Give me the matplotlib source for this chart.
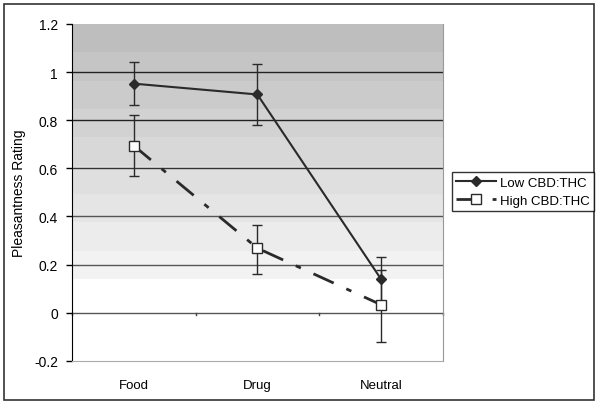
import matplotlib.pyplot as plt
import matplotlib.patches as mpatches
from matplotlib.lines import Line2D
import numpy as np

# Данные
categories = ['Food', 'Drug', 'Neutral']
low_values = [0.952, 0.907, 0.140]
low_err = [0.090, 0.127, 0.093]
high_values = [0.694, 0.268, 0.033]
high_err_low = [0.127, 0.106, 0.155]
high_err_high = [0.127, 0.098, 0.145]
y_ticks = [-0.2, 0, 0.2, 0.4, 0.6, 0.8, 1.0, 1.2]
y_tick_labels = ['-0.2', '0', '0.2', '0.4', '0.6', '0.8', '1', '1.2']
series_labels = ['Low CBD:THC', 'High CBD:THC']

plt.rcParams['font.family'] = ['Liberation Sans', 'DejaVu Sans']

fig = plt.figure(figsize=(6.01, 4.06), dpi=100)
ax = fig.add_axes([72 / 601, 1 - 361.7 / 406, (442.7 - 72) / 601, (361.7 - 25) / 406])

# Рамка всей картинки
fig.patches.append(mpatches.Rectangle((4 / 601, 1 - 401 / 406), 590 / 601, 396 / 406,
                                      transform=fig.transFigure, fill=False,
                                      edgecolor='#333333', linewidth=1.2))

x = np.arange(len(categories))
ax.set_xlim(-0.5, 2.5)
ax.set_ylim(-0.2, 1.2)

# Градиентный фон (полосы от серого к белому)
n_bands = 9
edges = np.linspace(1.2, 0.14, n_bands + 1)
shades = np.linspace(0.745, 0.95, n_bands)
for i in range(n_bands):
    ax.axhspan(edges[i + 1], edges[i], color=str(shades[i]), linewidth=0, zorder=0)

# Горизонтальные линии сетки
for yv, c in [(1.0, '#222222'), (0.8, '#222222'), (0.6, '#333333'), (0.4, '#555555'), (0.2, '#555555')]:
    ax.axhline(yv, color=c, linewidth=1.0, zorder=1)
ax.axhline(0, color='#555555', linewidth=1.0, zorder=1)

# Деления категорий на нулевой линии
for xb in [-0.5, 0.5, 1.5, 2.5]:
    ax.plot([xb, xb], [0, -0.012], color='#444444', linewidth=1.0, zorder=1, clip_on=False)

low_style = dict(color='#2a2a2a', linewidth=1.5, marker='D', markersize=5.5,
                 markerfacecolor='#2a2a2a', markeredgecolor='#2a2a2a')
high_style = dict(color='#2a2a2a', linewidth=2.0, dashes=[8, 5, 2, 5], marker='s',
                  markersize=6.5, markerfacecolor='white', markeredgecolor='#2a2a2a')

ax.errorbar(x, low_values, yerr=low_err, ecolor='#2a2a2a', elinewidth=1.0,
            capsize=3.5, capthick=1.0, zorder=3, **low_style)
ax.errorbar(x, high_values, yerr=[high_err_low, high_err_high], ecolor='#2a2a2a',
            elinewidth=1.0, capsize=3.5, capthick=1.0, zorder=4, **high_style)

ax.set_xticks(x)
ax.set_xticklabels(categories, fontsize=9.5)
ax.tick_params(axis='x', length=0, pad=13)
ax.set_yticks(y_ticks)
ax.set_yticklabels(y_tick_labels, fontsize=10)
ax.tick_params(axis='y', direction='out', length=4, width=1, color='black', pad=6)
ax.set_ylabel('Pleasantness Rating', fontsize=10, labelpad=6)

ax.spines['top'].set_visible(False)
ax.spines['right'].set_color('#999999')
ax.spines['bottom'].set_color('#aaaaaa')
ax.spines['left'].set_color('black')

handles = [Line2D([], [], **low_style), Line2D([], [], **high_style)]
leg = fig.legend(handles, series_labels, loc='upper left',
                 bbox_to_anchor=(451.7 / 601, 1 - 172.7 / 406),
                 fontsize=9.5, frameon=True, fancybox=False, edgecolor='black',
                 borderpad=0.35, handlelength=3.0, handletextpad=0.3, labelspacing=0.45,
                 borderaxespad=0)
leg.get_frame().set_linewidth(1.0)

plt.savefig('out.png', dpi=100)
plt.close()
